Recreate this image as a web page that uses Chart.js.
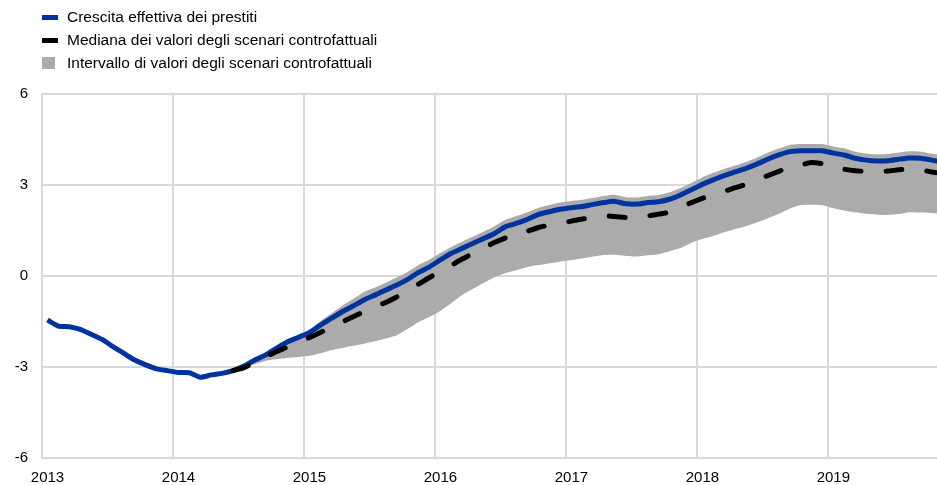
<!DOCTYPE html>
<html>
<head>
<meta charset="utf-8">
<script src="https://cdn.jsdelivr.net/npm/chart.js@4/dist/chart.umd.min.js"></script>
<style>
  html, body { margin: 0; padding: 0; background: #fff; }
  #wrap { position: relative; width: 937px; height: 485px; }
  #legend { position: absolute; left: 0; top: 0; font-family: "Liberation Sans", Arial, sans-serif; font-size: 15.5px; color: #000; }
  .item { position: absolute; left: 42px; white-space: nowrap; height: 20px; }
  .sw { position: absolute; left: 0; }
  .lbl { position: absolute; left: 25px; top: 0; line-height: 20px; }
</style>
</head>
<body>
<div id="wrap">
  <canvas id="chart" width="937" height="485"></canvas>
  <div id="legend"></div>
</div>
<script>
// Monthly series from January 2013 (month index 0) to November 2019 (index 82).
// The axis stops at the end of October 2019, so the last month is cut by the edge.
const FIRST_YEAR = 2013;
const AXIS_MONTHS = 82;
const YEARS = [2013, 2014, 2015, 2016, 2017, 2018, 2019];

// Actual loan growth (%)
const actualGrowth = [
  -1.45, -1.65, -1.67, -1.76, -1.92, -2.09, -2.33, -2.55, -2.77, -2.93, -3.06, -3.12,
  -3.18, -3.19, -3.34, -3.26, -3.21, -3.12, -2.97, -2.77, -2.60, -2.38, -2.17, -2.02,
  -1.87, -1.62, -1.40, -1.18, -0.99, -0.79, -0.63, -0.46, -0.30, -0.11, 0.12, 0.30,
  0.53, 0.75, 0.91, 1.08, 1.24, 1.41, 1.63, 1.74, 1.87, 2.03, 2.12, 2.20,
  2.25, 2.29, 2.36, 2.42, 2.46, 2.38, 2.37, 2.42, 2.45, 2.53, 2.67, 2.84,
  3.02, 3.17, 3.31, 3.43, 3.55, 3.69, 3.85, 3.99, 4.10, 4.13, 4.13, 4.13,
  4.05, 3.99, 3.88, 3.82, 3.79, 3.80, 3.85, 3.89, 3.88, 3.82, 3.76
];

// Counterfactual scenarios start in June 2014 (month index 17)
const CF_START = 17;
const cfMedian = [
  -3.12, -3.02, -2.85, -2.66, -2.49, -2.34, -2.18, -2.03, -1.86, -1.69, -1.52, -1.34,
  -1.18, -1.03, -0.87, -0.69, -0.48, -0.27, -0.05, 0.15, 0.35, 0.56, 0.75, 0.93,
  1.11, 1.26, 1.37, 1.48, 1.60, 1.68, 1.74, 1.81, 1.88, 1.90, 1.98, 1.96,
  1.93, 1.93, 1.98, 2.04, 2.10, 2.27, 2.42, 2.56, 2.68, 2.79, 2.91, 3.02,
  3.17, 3.31, 3.45, 3.58, 3.66, 3.74, 3.70, 3.62, 3.52, 3.47, 3.45, 3.45,
  3.46, 3.50, 3.52, 3.50, 3.43, 3.38
];
const cfUpper = [
  -3.12, -2.95, -2.76, -2.58, -2.35, -2.12, -1.94, -1.76, -1.50, -1.24, -0.98, -0.76,
  -0.53, -0.38, -0.22, -0.05, 0.13, 0.36, 0.54, 0.76, 0.96, 1.13, 1.30, 1.47,
  1.65, 1.86, 1.98, 2.10, 2.25, 2.34, 2.42, 2.47, 2.51, 2.58, 2.64, 2.68,
  2.60, 2.59, 2.64, 2.67, 2.76, 2.90, 3.07, 3.25, 3.40, 3.53, 3.64, 3.76,
  3.90, 4.06, 4.20, 4.32, 4.35, 4.35, 4.35, 4.27, 4.21, 4.10, 4.04, 4.01,
  4.02, 4.07, 4.11, 4.10, 4.04, 3.98
];
const cfLower = [
  -3.12, -3.02, -2.90, -2.80, -2.74, -2.70, -2.67, -2.63, -2.55, -2.44, -2.37, -2.30,
  -2.23, -2.15, -2.06, -1.95, -1.75, -1.52, -1.35, -1.15, -0.90, -0.62, -0.42, -0.22,
  -0.03, 0.10, 0.20, 0.30, 0.36, 0.42, 0.48, 0.53, 0.58, 0.64, 0.69, 0.70,
  0.66, 0.64, 0.68, 0.72, 0.82, 0.92, 1.10, 1.22, 1.32, 1.44, 1.55, 1.64,
  1.76, 1.90, 2.05, 2.22, 2.34, 2.35, 2.33, 2.23, 2.16, 2.10, 2.05, 2.02,
  2.01, 2.04, 2.10, 2.09, 2.07, 2.06
];

const Y_TICKS = [-6, -3, 0, 3, 6];

const legendItems = [
  { text: 'Crescita effettiva dei prestiti', kind: 'line', color: '#0033a0' },
  { text: 'Mediana dei valori degli scenari controfattuali', kind: 'line', color: '#000000' },
  { text: 'Intervallo di valori degli scenari controfattuali', kind: 'box', color: '#ababab' }
];

const COLORS = { actual: '#0033a0', median: '#000000', band: '#ababab', grid: '#d9d9d9' };
const FONT = '"Liberation Sans", Arial, sans-serif';

// month index -> point, each month plotted at its middle
function toPoints(arr, first) {
  return arr.map((v, k) => ({ x: first + k, y: v }));
}

// HTML legend, stacked vertically in the top-left corner
const legendEl = document.getElementById('legend');
legendItems.forEach((it, k) => {
  const row = document.createElement('div');
  row.className = 'item';
  row.style.top = (7 + k * 23) + 'px';
  const sw = document.createElement('div');
  sw.className = 'sw';
  sw.style.background = it.color;
  if (it.kind === 'line') {
    sw.style.width = '16px'; sw.style.height = '5px'; sw.style.top = '8px';
  } else {
    sw.style.width = '13px'; sw.style.height = '12px'; sw.style.top = '4px';
  }
  const lbl = document.createElement('div');
  lbl.className = 'lbl';
  lbl.textContent = it.text;
  row.appendChild(sw);
  row.appendChild(lbl);
  legendEl.appendChild(row);
});

new Chart(document.getElementById('chart'), {
  type: 'line',
  data: {
    datasets: [
      {
        label: legendItems[0].text,
        data: toPoints(actualGrowth, 0),
        borderColor: COLORS.actual,
        borderWidth: 5,
        pointRadius: 0,
        tension: 0.2,
        fill: false,
        order: 1
      },
      {
        label: legendItems[1].text,
        data: toPoints(cfMedian, CF_START),
        borderColor: COLORS.median,
        borderWidth: 5,
        borderDash: [16, 25],
        borderCapStyle: 'round',
        pointRadius: 0,
        tension: 0.2,
        fill: false,
        order: 0
      },
      {
        label: legendItems[2].text,
        data: toPoints(cfUpper, CF_START),
        borderWidth: 0,
        borderColor: 'rgba(0,0,0,0)',
        backgroundColor: COLORS.band,
        pointRadius: 0,
        tension: 0.2,
        fill: '+1',
        order: 2
      },
      {
        label: 'lower',
        data: toPoints(cfLower, CF_START),
        borderWidth: 0,
        borderColor: 'rgba(0,0,0,0)',
        pointRadius: 0,
        tension: 0.2,
        fill: false,
        order: 3
      }
    ]
  },
  options: {
    responsive: false,
    animation: false,
    layout: { padding: { left: 12, right: 0, top: 94, bottom: 0 } },
    plugins: { legend: { display: false }, tooltip: { enabled: false } },
    scales: {
      x: {
        type: 'linear',
        min: -0.5,
        max: AXIS_MONTHS - 0.5,
        border: { display: false },
        // one tick per year, on the boundary before January
        afterBuildTicks: (scale) => {
          scale.ticks = YEARS.map(y => ({ value: (y - FIRST_YEAR) * 12 - 0.5 }));
        },
        afterFit: (scale) => { scale.height = 27; scale.paddingLeft = 0; scale.paddingRight = 0; },
        grid: { drawTicks: false, lineWidth: 2, color: COLORS.grid },
        ticks: {
          maxRotation: 0,
          autoSkip: false,
          padding: 11,
          labelOffset: 5.5,
          color: '#000',
          font: { family: FONT, size: 15 },
          callback: (value) => String(FIRST_YEAR + Math.round((value + 0.5) / 12))
        }
      },
      y: {
        min: -6,
        max: 6,
        border: { display: false },
        afterBuildTicks: (scale) => { scale.ticks = Y_TICKS.map(v => ({ value: v })); },
        afterFit: (scale) => { scale.width = 30; scale.paddingTop = 0; scale.paddingBottom = 0; },
        grid: { drawTicks: false, lineWidth: 2, color: COLORS.grid },
        ticks: {
          padding: 14,
          color: '#000',
          font: { family: FONT, size: 15 }
        }
      }
    }
  }
});
</script>
</body>
</html>
